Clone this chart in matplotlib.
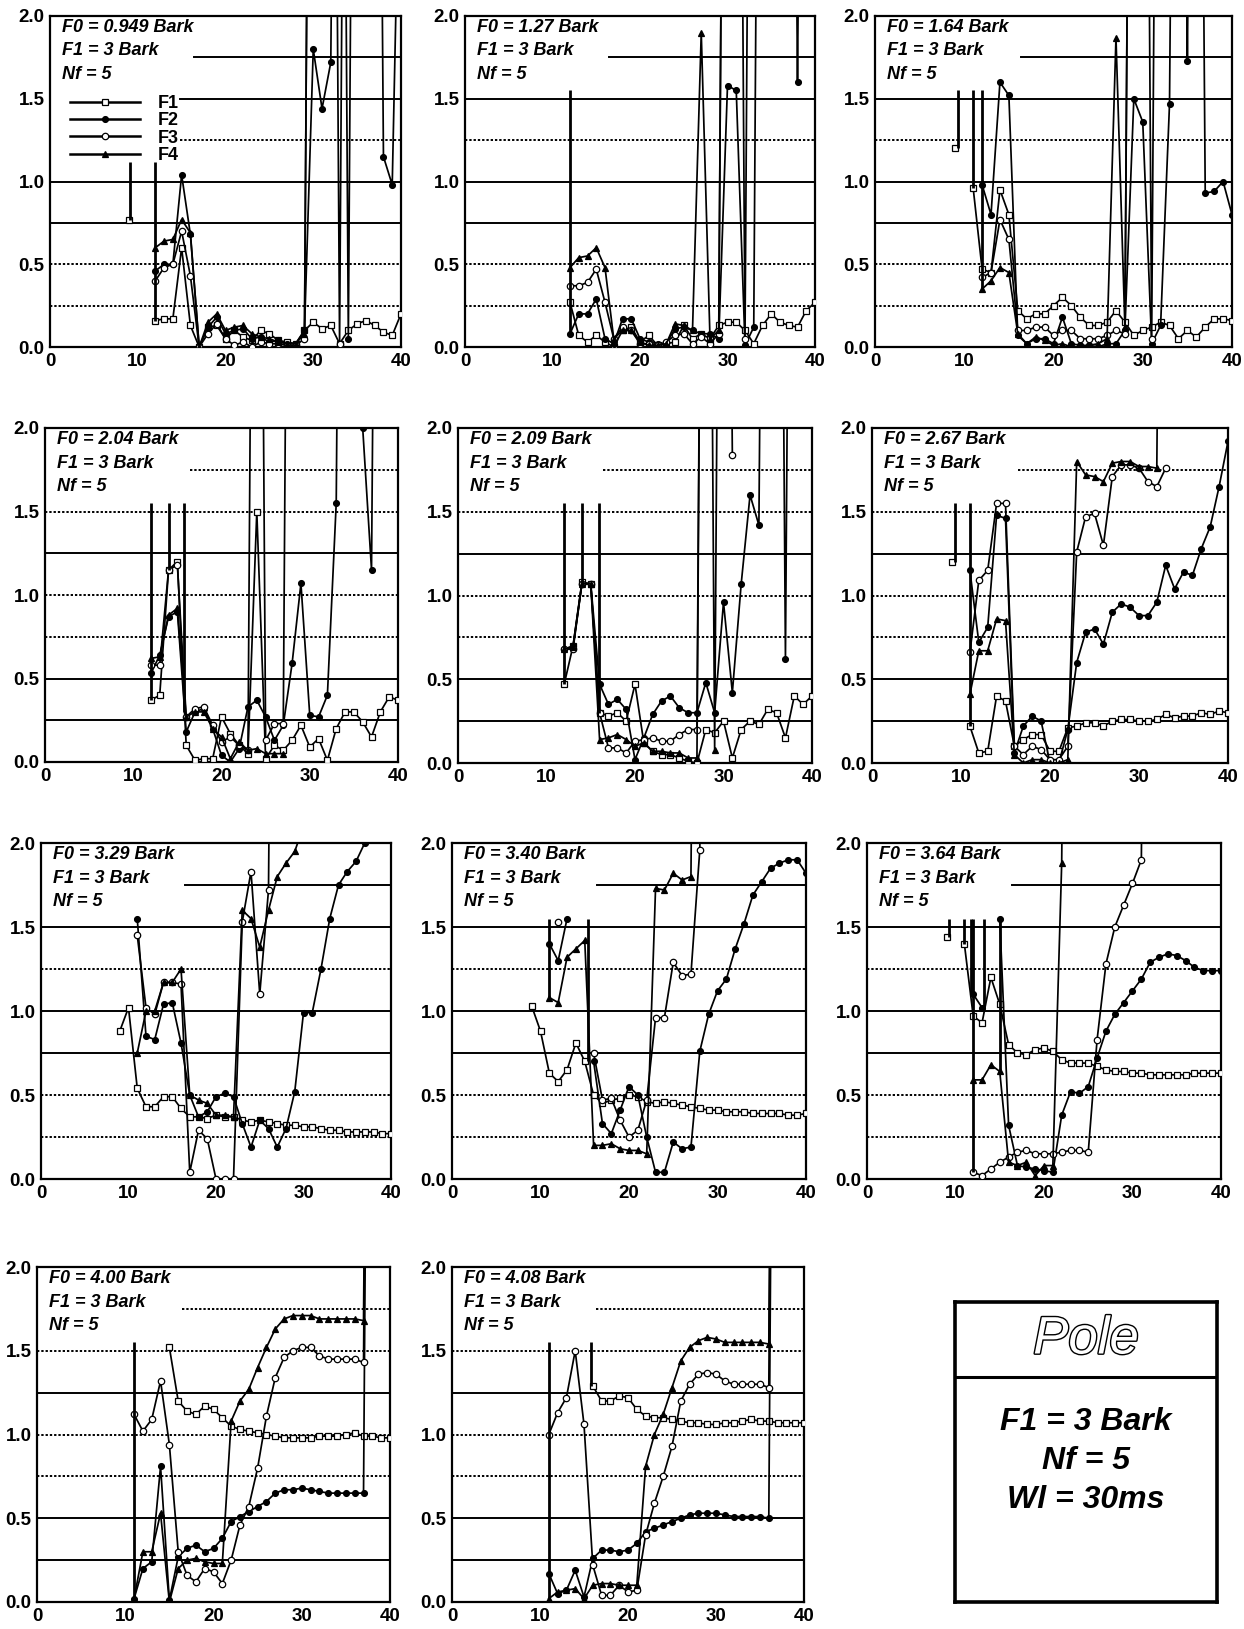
import numpy as np
import matplotlib
matplotlib.use("Agg")
import matplotlib.pyplot as plt
from matplotlib.lines import Line2D
import matplotlib.patheffects as pe

N = np.nan
HI = 8.0  # valor fuera de escala (la curva sale por arriba)

# tramas (eje x) comunes a todos los paneles
FRAMES = np.arange(9, 41)

F0_BARK = ["0.949", "1.27", "1.64", "2.04", "2.09", "2.67",
           "3.29", "3.40", "3.64", "4.00", "4.08"]

# ---- panel 1 : F0 = 0.949
F1_P01 = [0.77, N, N, 0.16, 0.17, 0.17, 0.60, 0.13, 0.00, 0.12, 0.13, 0.05, 0.10, 0.06, 0.04, 0.10,
          0.08, 0.04, 0.03, 0.02, 0.10, 0.15, 0.11, 0.13, 0.02, 0.10, 0.14, 0.16, 0.13, 0.09, 0.07, 0.20]
F2_P01 = [N, N, N, 0.46, 0.50, 0.50, 1.04, 0.68, 0.00, 0.12, 0.18, 0.08, 0.10, 0.11, 0.05, 0.06,
          0.03, 0.04, 0.02, 0.02, 0.10, 1.80, 1.44, 1.72, HI, 0.05, HI, HI, HI, 1.15, 0.98, 3.5]
F3_P01 = [N, N, N, 0.40, 0.48, 0.50, 0.70, 0.43, 0.00, 0.08, 0.14, 0.05, 0.01, 0.03, 0.00, 0.03,
          0.02, 0.02, 0.01, 0.01, 0.05, HI, HI, HI, 0.02, HI, N, N, N, N, N, N]
F4_P01 = [N, N, N, 0.60, 0.64, 0.65, 0.77, 0.69, 0.00, 0.15, 0.20, 0.10, 0.12, 0.13, 0.08, 0.06,
          0.05, 0.03, 0.02, 0.02, 0.08, HI, N, N, N, N, N, N, N, N, N, N]
SPIKES_P01 = [(9.15, 0.77, 1.12), (12.0, 0.16, 1.12)]

# ---- panel 2 : F0 = 1.27
F1_P02 = [N, N, N, 0.27, 0.07, 0.03, 0.07, 0.03, 0.00, 0.10, 0.12, 0.03, 0.07, 0.01, 0.02, 0.03,
          0.13, 0.05, 0.08, 0.05, 0.13, 0.15, 0.15, 0.10, 0.02, 0.13, 0.20, 0.15, 0.13, 0.12, 0.22, 0.27]
F2_P02 = [N, N, N, 0.08, 0.20, 0.20, 0.29, 0.05, 0.02, 0.17, 0.17, 0.05, 0.03, 0.02, 0.02, 0.11,
          0.12, 0.10, 0.08, 0.08, 0.05, 1.58, 1.55, 0.01, 0.12, HI, HI, HI, HI, 1.60, HI, N]
F3_P02 = [N, N, N, 0.37, 0.37, 0.39, 0.47, 0.27, 0.05, 0.12, 0.10, 0.02, 0.02, 0.01, 0.03, 0.07,
          0.08, 0.02, 0.06, 0.02, 0.08, HI, HI, 0.05, HI, N, N, N, N, N, N, N]
F4_P02 = [N, N, N, 0.48, 0.54, 0.55, 0.60, 0.48, 0.05, 0.10, 0.10, 0.03, 0.01, 0.01, 0.02, 0.14,
          0.13, 0.10, 1.90, 0.05, 0.10, HI, N, N, N, N, N, N, N, N, N, N]
SPIKES_P02 = [(12.0, 0.08, 1.55)]

# ---- panel 3 : F0 = 1.64
F1_P03 = [1.20, N, 0.96, 0.47, 0.45, 0.95, 0.80, 0.22, 0.17, 0.20, 0.20, 0.25, 0.30, 0.25, 0.18, 0.13,
          0.13, 0.15, 0.22, 0.15, 0.07, 0.10, 0.12, 0.15, 0.13, 0.05, 0.10, 0.06, 0.12, 0.17, 0.17, 0.16]
F2_P03 = [N, N, N, 0.98, 0.80, 1.60, 1.52, 0.07, 0.02, 0.05, 0.05, 0.02, 0.18, 0.02, 0.01, 0.01,
          0.00, 0.02, 0.02, 0.10, 1.50, 1.36, 0.02, 0.13, 1.47, HI, 1.73, HI, 0.93, 0.94, 1.00, 0.80]
F3_P03 = [N, N, N, 0.42, 0.45, 0.77, 0.65, 0.10, 0.10, 0.12, 0.12, 0.07, 0.10, 0.10, 0.05, 0.05,
          0.05, 0.07, 0.10, 0.08, HI, HI, 0.05, HI, N, N, N, N, N, N, N, N]
F4_P03 = [N, N, N, 0.35, 0.40, 0.48, 0.45, 0.08, 0.02, 0.06, 0.04, 0.01, 0.02, 0.00, 0.00, 0.01,
          0.02, 0.05, 1.87, 0.12, HI, HI, N, N, N, N, N, N, N, N, N, N]
SPIKES_P03 = [(9.3, 1.20, 1.55), (11.0, 0.96, 1.55), (12.0, 0.35, 1.55)]

# ---- panel 4 : F0 = 2.04
F1_P04 = [N, N, N, 0.37, 0.40, 1.15, 1.20, 0.10, 0.01, 0.02, 0.02, 0.27, 0.17, 0.10, 0.05, 1.50,
          0.02, 0.10, 0.07, 0.13, 0.22, 0.09, 0.14, 0.01, 0.20, 0.30, 0.30, 0.24, 0.15, 0.30, 0.39, 0.37]
F2_P04 = [N, N, N, 0.53, 0.64, 0.87, 0.90, 0.18, 0.30, 0.32, 0.20, 0.04, 0.00, 0.08, 0.33, 0.37,
          0.27, 0.13, 0.22, 0.59, 1.07, 0.28, 0.27, 0.40, 1.55, HI, HI, 2.00, 1.15, HI, N, N]
F3_P04 = [N, N, N, 0.58, 0.58, 1.15, 1.18, 0.27, 0.32, 0.33, 0.22, 0.12, 0.15, 0.10, 0.07, HI,
          0.13, 0.23, 0.23, HI, N, N, N, N, N, N, N, N, N, N, N, N]
F4_P04 = [N, N, N, 0.62, 0.63, 0.88, 0.92, 0.27, 0.30, 0.30, 0.20, 0.15, 0.02, 0.12, 0.07, 0.08,
          0.05, 0.05, 0.05, N, N, N, N, N, N, N, N, N, N, N, N, N]
SPIKES_P04 = [(12.0, 0.37, 1.55), (14.1, 1.15, 1.55), (15.8, 0.30, 1.55)]

# ---- panel 5 : F0 = 2.09
F1_P05 = [N, N, N, 0.47, 0.70, 1.08, 1.07, 0.30, 0.28, 0.30, 0.25, 0.47, 0.12, 0.07, 0.05, 0.05,
          0.03, 0.01, 0.00, 0.20, 0.18, 0.25, 0.03, 0.20, 0.25, 0.23, 0.32, 0.30, 0.15, 0.40, 0.35, 0.40]
F2_P05 = [N, N, N, 0.68, 0.70, 1.07, 1.07, 0.47, 0.35, 0.38, 0.32, 0.02, 0.15, 0.29, 0.37, 0.40,
          0.33, 0.30, 0.30, 0.48, 0.30, 0.96, 0.42, 1.07, 1.60, 1.42, HI, HI, 0.62, HI, N, N]
F3_P05 = [N, N, N, 0.68, 0.68, 1.07, 1.07, 0.30, 0.09, 0.09, 0.06, 0.13, 0.14, 0.15, 0.13, 0.13,
          0.17, 0.20, 0.20, HI, HI, HI, 1.84, N, N, N, N, N, N, N, N, N]
F4_P05 = [N, N, N, 0.68, 0.69, 1.07, 1.07, 0.14, 0.15, 0.17, 0.14, 0.10, 0.12, 0.07, 0.07, 0.06,
          0.06, 0.03, 0.03, HI, 0.08, HI, N, N, N, N, N, N, N, N, N, N]
SPIKES_P05 = [(12.0, 0.47, 1.55), (14.0, 1.07, 1.55), (15.9, 0.30, 1.55)]

# ---- panel 6 : F0 = 2.67
F1_P06 = [1.20, N, 0.22, 0.06, 0.07, 0.40, 0.37, 0.10, 0.14, 0.17, 0.17, 0.07, 0.07, 0.21, 0.22, 0.24,
          0.24, 0.22, 0.25, 0.26, 0.26, 0.25, 0.25, 0.26, 0.29, 0.27, 0.28, 0.28, 0.30, 0.29, 0.31, 0.30]
F2_P06 = [N, N, 1.15, 0.72, 0.81, 1.48, 1.46, 0.06, 0.22, 0.28, 0.25, 0.00, 0.00, 0.20, 0.60, 0.78,
          0.80, 0.71, 0.90, 0.95, 0.93, 0.88, 0.88, 0.96, 1.18, 1.04, 1.14, 1.12, 1.28, 1.41, 1.65, 1.92]
F3_P06 = [N, N, 0.66, 1.09, 1.15, 1.55, 1.55, 0.10, 0.05, 0.10, 0.08, 0.02, 0.02, 0.10, 1.26, 1.47,
          1.49, 1.30, 1.71, 1.78, 1.78, 1.76, 1.68, 1.65, 1.76, N, N, N, N, N, N, N]
F4_P06 = [N, N, 0.41, 0.67, 0.67, 0.86, 0.85, 0.05, 0.00, 0.02, 0.02, 0.00, 0.00, 0.02, 1.80, 1.72,
          1.71, 1.68, 1.79, 1.80, 1.80, 1.77, 1.77, 1.76, HI, N, N, N, N, N, N, N]
SPIKES_P06 = [(9.3, 1.20, 1.55), (11.0, 0.22, 1.55)]

# ---- panel 7 : F0 = 3.29
F1_P07 = [0.88, 1.02, 0.54, 0.43, 0.43, 0.49, 0.49, 0.42, 0.37, 0.37, 0.36, 0.38, 0.37, 0.37, 0.35, 0.34,
          0.35, 0.34, 0.33, 0.32, 0.32, 0.31, 0.31, 0.30, 0.29, 0.29, 0.28, 0.28, 0.28, 0.28, 0.27, 0.27]
F2_P07 = [N, N, 1.55, 0.85, 0.83, 1.04, 1.05, 0.81, 0.50, 0.37, 0.40, 0.49, 0.51, 0.49, 0.33, 0.19,
          0.35, 0.30, 0.19, 0.30, 0.52, 0.99, 0.99, 1.25, 1.55, 1.75, 1.83, 1.89, 2.00, HI, N, N]
F3_P07 = [N, N, 1.45, 1.02, 0.98, 1.17, 1.17, 1.16, 0.04, 0.29, 0.24, 0.00, 0.00, 0.00, 1.53, 1.83,
          1.10, 1.72, HI, N, N, N, N, N, N, N, N, N, N, N, N, N]
F4_P07 = [N, N, 0.75, 1.00, 1.00, 1.17, 1.17, 1.25, 0.50, 0.47, 0.45, 0.38, 0.38, 0.37, 1.60, 1.55,
          1.38, 1.60, 1.80, 1.88, 1.95, 2.10, N, N, N, N, N, N, N, N, N, N]
SPIKES_P07 = []

# ---- panel 8 : F0 = 3.40
F1_P08 = [1.03, 0.88, 0.63, 0.58, 0.65, 0.81, 0.70, 0.50, 0.45, 0.47, 0.48, 0.50, 0.49, 0.46, 0.45, 0.46,
          0.45, 0.44, 0.43, 0.42, 0.41, 0.41, 0.40, 0.40, 0.40, 0.39, 0.39, 0.39, 0.39, 0.38, 0.38, 0.39]
F2_P08 = [N, N, 1.40, 1.30, 1.55, N, N, 0.70, 0.33, 0.27, 0.41, 0.55, 0.50, 0.25, 0.04, 0.04,
          0.22, 0.18, 0.19, 0.76, 0.98, 1.12, 1.19, 1.37, 1.52, 1.69, 1.77, 1.85, 1.88, 1.90, 1.90, 1.82]
F3_P08 = [N, N, N, 1.53, N, N, N, 0.75, 0.47, 0.48, 0.35, 0.25, 0.29, 0.47, 0.96, 0.96,
          1.29, 1.21, 1.22, 1.96, HI, N, N, N, N, N, N, N, N, N, N, N]
F4_P08 = [N, N, 1.08, 1.05, 1.32, 1.37, 1.42, 0.20, 0.20, 0.21, 0.18, 0.17, 0.17, 0.15, 1.73, 1.72,
          1.82, 1.78, 1.80, HI, N, N, N, N, N, N, N, N, N, N, N, N]
SPIKES_P08 = [(11.0, 1.08, 1.55), (15.4, 0.70, 1.55)]

# ---- panel 9 : F0 = 3.64
F1_P09 = [1.44, N, 1.40, 0.97, 0.93, 1.20, 1.04, 0.80, 0.75, 0.74, 0.77, 0.78, 0.76, 0.71, 0.69, 0.69,
          0.69, 0.67, 0.65, 0.64, 0.64, 0.63, 0.63, 0.62, 0.62, 0.62, 0.62, 0.62, 0.63, 0.63, 0.63, 0.63]
F2_P09 = [N, N, N, 1.10, 1.02, N, 1.55, 0.32, 0.08, 0.07, 0.06, 0.05, 0.04, 0.38, 0.52, 0.51,
          0.55, 0.72, 0.88, 0.98, 1.05, 1.12, 1.19, 1.29, 1.32, 1.34, 1.33, 1.30, 1.26, 1.24, 1.24, 1.24]
F3_P09 = [N, N, N, 0.04, 0.02, 0.06, 0.10, 0.13, 0.16, 0.17, 0.15, 0.15, 0.15, 0.16, 0.17, 0.17,
          0.16, 0.83, 1.28, 1.50, 1.63, 1.76, 1.90, HI, N, N, N, N, N, N, N, N]
F4_P09 = [N, N, N, 0.59, 0.59, 0.68, 0.64, 0.10, 0.08, 0.10, 0.02, 0.08, 0.08, 1.88, HI, N,
          N, N, N, N, N, N, N, N, N, N, N, N, N, N, N, N]
SPIKES_P09 = [(9.3, 1.44, 1.55), (11.0, 1.40, 1.55), (11.7, 1.10, 1.55),
              (12.0, 0.04, 1.55), (13.2, 1.02, 1.55), (15.0, 0.64, 1.55)]

# ---- panel 10 : F0 = 4.00
F1_P10 = [N, N, N, N, N, N, 1.52, 1.20, 1.14, 1.12, 1.17, 1.15, 1.10, 1.05, 1.03, 1.02,
          1.01, 1.00, 0.99, 0.98, 0.98, 0.98, 0.98, 0.99, 0.99, 0.99, 1.00, 1.01, 0.99, 0.99, 0.98, 0.98]
F2_P10 = [N, N, 0.02, 0.20, 0.24, 0.81, 0.01, 0.27, 0.32, 0.34, 0.30, 0.32, 0.38, 0.48, 0.51, 0.54,
          0.57, 0.60, 0.65, 0.67, 0.67, 0.68, 0.67, 0.66, 0.65, 0.65, 0.65, 0.65, 0.65, HI, N, N]
F3_P10 = [N, N, 1.12, 1.02, 1.09, 1.32, 0.94, 0.30, 0.16, 0.12, 0.20, 0.18, 0.11, 0.25, 0.46, 0.57,
          0.80, 1.11, 1.34, 1.46, 1.50, 1.52, 1.52, 1.47, 1.45, 1.45, 1.45, 1.45, 1.43, HI, N, N]
F4_P10 = [N, N, 0.02, 0.30, 0.30, 0.53, 0.00, 0.20, 0.25, 0.26, 0.24, 0.23, 0.23, 1.08, 1.20, 1.27,
          1.40, 1.52, 1.63, 1.69, 1.71, 1.71, 1.71, 1.69, 1.69, 1.69, 1.69, 1.69, 1.68, HI, N, N]
SPIKES_P10 = [(11.0, 0.02, 1.55)]

# ---- panel 11 : F0 = 4.08
F1_P11 = [N, N, N, N, N, N, N, 1.29, 1.20, 1.20, 1.23, 1.22, 1.15, 1.11, 1.10, 1.10,
          1.09, 1.08, 1.07, 1.07, 1.06, 1.06, 1.07, 1.07, 1.08, 1.09, 1.08, 1.08, 1.07, 1.07, 1.07, 1.07]
F2_P11 = [N, N, 0.17, 0.05, 0.07, 0.19, 0.03, 0.26, 0.31, 0.31, 0.30, 0.31, 0.35, 0.42, 0.44, 0.46,
          0.48, 0.50, 0.52, 0.53, 0.53, 0.53, 0.52, 0.51, 0.51, 0.51, 0.51, 0.50, HI, N, N, N]
F3_P11 = [N, N, 1.00, 1.13, 1.22, 1.50, 1.06, 0.22, 0.04, 0.04, 0.10, 0.06, 0.07, 0.40, 0.59, 0.75,
          0.93, 1.20, 1.30, 1.36, 1.37, 1.36, 1.32, 1.30, 1.30, 1.30, 1.30, 1.28, HI, N, N, N]
F4_P11 = [N, N, 0.02, 0.06, 0.07, 0.08, 0.02, 0.10, 0.11, 0.11, 0.10, 0.10, 0.10, 0.81, 1.00, 1.12,
          1.28, 1.44, 1.52, 1.56, 1.58, 1.57, 1.55, 1.55, 1.55, 1.55, 1.55, 1.54, HI, N, N, N]
SPIKES_P11 = [(11.0, 0.02, 1.55), (15.8, 1.29, 1.55)]

SERIES = [
    (F1_P01, F2_P01, F3_P01, F4_P01, SPIKES_P01),
    (F1_P02, F2_P02, F3_P02, F4_P02, SPIKES_P02),
    (F1_P03, F2_P03, F3_P03, F4_P03, SPIKES_P03),
    (F1_P04, F2_P04, F3_P04, F4_P04, SPIKES_P04),
    (F1_P05, F2_P05, F3_P05, F4_P05, SPIKES_P05),
    (F1_P06, F2_P06, F3_P06, F4_P06, SPIKES_P06),
    (F1_P07, F2_P07, F3_P07, F4_P07, SPIKES_P07),
    (F1_P08, F2_P08, F3_P08, F4_P08, SPIKES_P08),
    (F1_P09, F2_P09, F3_P09, F4_P09, SPIKES_P09),
    (F1_P10, F2_P10, F3_P10, F4_P10, SPIKES_P10),
    (F1_P11, F2_P11, F3_P11, F4_P11, SPIKES_P11),
]

# marcador y relleno de F1..F4
MARCAS = [("s", "white", 4.6), ("o", "black", 4.2), ("o", "white", 4.6), ("^", "black", 4.6)]
NOMBRES = ["F1", "F2", "F3", "F4"]

# cajas de los ejes en pixeles (izq, arriba, der, abajo)
CAJAS = [
    (50, 16, 401, 347), (465, 16, 815, 347), (875, 16, 1232, 347),
    (45, 428, 398, 762), (458, 428, 812, 763), (872, 428, 1228, 763),
    (41, 843, 391, 1179), (452, 843, 806, 1179), (867, 843, 1221, 1179),
    (37, 1267, 390, 1602), (452, 1267, 804, 1602),
]
W, H = 1244, 1629

SOLIDO = "-"
PUNTOS = (0, (1.2, 1.0))
GRID_A = {0.25: PUNTOS, 0.5: PUNTOS, 0.75: SOLIDO, 1.0: SOLIDO, 1.25: PUNTOS, 1.5: SOLIDO, 1.75: SOLIDO}
GRID_B = {0.25: SOLIDO, 0.5: SOLIDO, 0.75: PUNTOS, 1.0: PUNTOS, 1.25: SOLIDO, 1.5: PUNTOS, 1.75: PUNTOS}

fig = plt.figure(figsize=(W / 100, H / 100), dpi=100)
fig.patch.set_facecolor("white")

for i, (caja, f0, datos) in enumerate(zip(CAJAS, F0_BARK, SERIES)):
    x0, y0, x1, y1 = caja
    ax = fig.add_axes([x0 / W, 1 - y1 / H, (x1 - x0) / W, (y1 - y0) / H])
    fila = i // 3
    estilos = GRID_A if fila % 2 == 0 else GRID_B

    for nivel, ls in estilos.items():
        xmin = 0.0
        if nivel == 1.75:
            xmin = 0.41
        if i == 0 and nivel in (1.5, 1.25):
            xmin = 0.37
        ax.axhline(nivel, xmin=xmin, color="black", lw=1.4, ls=ls, zorder=1)

    for y, (mk, relleno, ms) in zip(datos[:4], MARCAS):
        ax.plot(FRAMES, y, color="black", lw=1.25, marker=mk, ms=ms,
                mfc=relleno, mec="black", mew=0.9, zorder=3)
    for xs, lo, hi in datos[4]:
        ax.vlines(xs, lo, hi, color="black", lw=2.0, zorder=3)

    ax.set_xlim(0, 40)
    ax.set_ylim(0, 2)
    ax.set_xticks([0, 10, 20, 30, 40])
    ax.set_yticks([0, 0.5, 1.0, 1.5, 2.0])
    ax.set_yticklabels(["0.0", "0.5", "1.0", "1.5", "2.0"])
    ax.tick_params(length=0, labelsize=13.5, pad=4)
    for lab in ax.get_xticklabels() + ax.get_yticklabels():
        lab.set_fontweight("bold")
        lab.set_family("Liberation Sans")
    for sp in ax.spines.values():
        sp.set_linewidth(1.6)

    for k, txt in enumerate([f"F0 = {f0} Bark", "F1 = 3 Bark", "Nf = 5"]):
        ax.text(0.035, 0.99 - 0.07 * k, txt, transform=ax.transAxes, va="top", ha="left",
                style="italic", fontweight="bold", fontsize=13, family="Liberation Sans", zorder=5)

    if i == 0:
        handles = [Line2D([], [], color="black", lw=1.8, marker=mk, ms=ms,
                          mfc=relleno, mec="black", mew=0.9)
                   for mk, relleno, ms in MARCAS]
        ax.legend(handles, NOMBRES, loc="upper left", bbox_to_anchor=(0.02, 0.80),
                  frameon=False, handlelength=3.9, handletextpad=1.0, labelspacing=0.02,
                  borderpad=0.2, numpoints=1,
                  prop={"family": "Liberation Sans", "size": 13, "weight": "bold"})

# caja de leyenda "Pole"
bx0, by0, bx1, by1 = 955, 1302, 1217, 1602
axb = fig.add_axes([bx0 / W, 1 - by1 / H, (bx1 - bx0) / W, (by1 - by0) / H])
axb.set_xlim(0, 1)
axb.set_ylim(0, 1)
axb.set_xticks([])
axb.set_yticks([])
for sp in axb.spines.values():
    sp.set_linewidth(2.6)
axb.axhline(0.75, color="black", lw=2.2)
axb.text(0.5, 0.875, "Pole", ha="center", va="center", fontsize=38, style="italic",
         family="Liberation Sans", color="white",
         path_effects=[pe.withStroke(linewidth=2.0, foreground="black")])
for yy, txt in zip([0.6, 0.47, 0.34], ["F1 = 3 Bark", "Nf = 5", "Wl = 30ms"]):
    axb.text(0.5, yy, txt, ha="center", va="center", fontsize=23, style="italic",
             fontweight="bold", family="Liberation Sans")

fig.savefig("out.png", dpi=100, facecolor="white")
